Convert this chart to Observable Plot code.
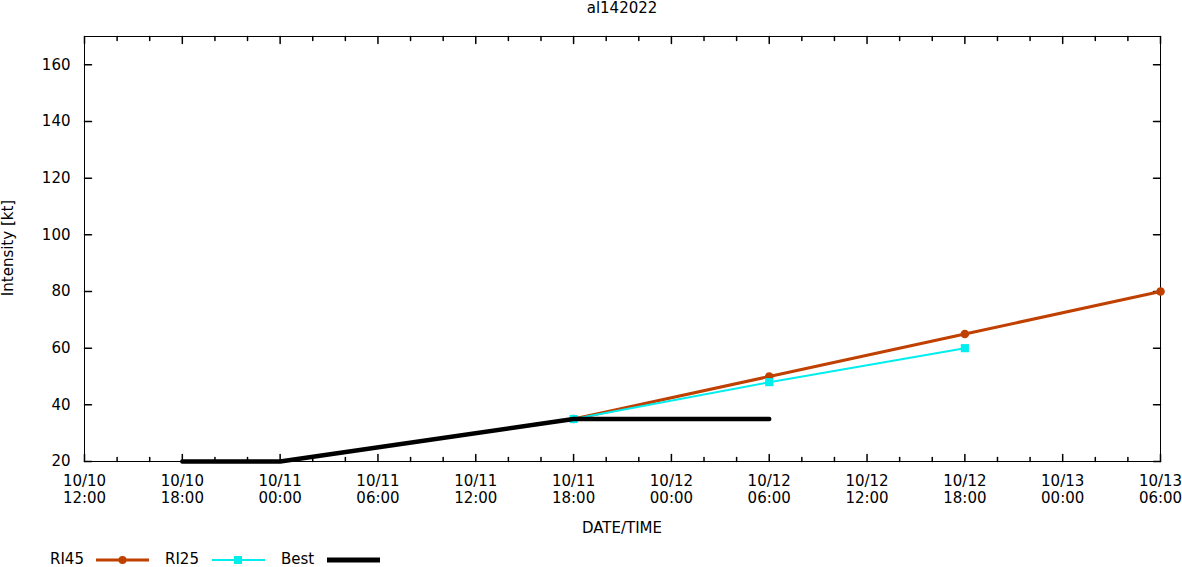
<!DOCTYPE html>
<html>
<head>
<meta charset="utf-8">
<script src="https://cdn.jsdelivr.net/npm/d3@7"></script>
<script src="https://cdn.jsdelivr.net/npm/@observablehq/plot@0.6"></script>
<style>
  html, body { margin: 0; padding: 0; background: #fff; }
  body { font-family: "DejaVu Sans", sans-serif; font-size: 15px; color: #000; }
  #wrap { position: relative; width: 1182px; height: 567px; }
  .abs { position: absolute; white-space: nowrap; line-height: 1; }
  #title { top: 1px; left: 622px; transform: translateX(-50%); }
  #xlabel { top: 521px; left: 622px; transform: translateX(-50%); }
  #ylabel { top: 248px; left: 8px; transform: translate(-50%, -50%) rotate(-90deg); }
  .leg { position: absolute; top: 552px; line-height: 1; }
  .legsw { position: absolute; top: 553px; }
</style>
</head>
<body>
<div id="wrap">
  <div id="chart"></div>
  <div id="title" class="abs">al142022</div>
  <div id="xlabel" class="abs">DATE/TIME</div>
  <div id="ylabel" class="abs">Intensity [kt]</div>
  <div id="legend"></div>
</div>
<script>
// ---- Data ----
const ri45Times = ["2022-10-11T18:00Z", "2022-10-12T06:00Z", "2022-10-12T18:00Z", "2022-10-13T06:00Z"];
const ri45Values = [35, 50, 65, 80];
const ri25Times = ["2022-10-11T18:00Z", "2022-10-12T06:00Z", "2022-10-12T18:00Z"];
const ri25Values = [35, 48, 60];
const bestTimes = ["2022-10-10T18:00Z", "2022-10-11T00:00Z", "2022-10-11T18:00Z", "2022-10-12T06:00Z"];
const bestValues = [20, 20, 35, 35];
const xDomain = ["2022-10-10T12:00Z", "2022-10-13T06:00Z"];
const yDomain = [20, 170];
const yTicks = [20, 40, 60, 80, 100, 120, 140, 160];

const seriesNames = ["RI45", "RI25", "Best"];
const seriesColors = ["#c04000", "#00eeee", "#000000"];

const toRows = (times, values) => times.map((t, i) => ({t: new Date(t), v: values[i]}));
const ri45 = toRows(ri45Times, ri45Values);
const ri25 = toRows(ri25Times, ri25Values);
const best = toRows(bestTimes, bestValues);

const x0 = new Date(xDomain[0]), x1 = new Date(xDomain[1]);
const majorTicks = d3.utcHour.every(6).range(x0, new Date(+x1 + 1));
const minorTicks = d3.utcHour.every(2).range(x0, new Date(+x1 + 1)).filter(d => d.getUTCHours() % 6 !== 0);

const tickShape = {draw(ctx, l) { ctx.moveTo(0, 0); ctx.lineTo(0, -l); }};
const fmt = d3.utcFormat("%m/%d\n%H:%M");

const plot = Plot.plot({
  width: 1182,
  height: 545,
  marginTop: 36,
  marginBottom: 84,
  marginLeft: 84,
  marginRight: 22,
  style: {fontFamily: "DejaVu Sans, sans-serif", fontSize: "15px", background: "#fff", color: "#000"},
  x: {type: "utc", domain: [x0, x1]},
  y: {domain: yDomain},
  marks: [
    Plot.axisX({ticks: majorTicks, tickSize: 0, tickPadding: 12, tickFormat: fmt, lineHeight: 1.15, label: null, fontSize: 15}),
    Plot.axisY({ticks: yTicks, tickSize: 0, tickPadding: 14, label: null, fontSize: 15}),
    // inward ticks on all four sides
    Plot.vector(majorTicks, {x: d => d, frameAnchor: "bottom", length: 7, rotate: 0, anchor: "start", shape: tickShape, stroke: "black"}),
    Plot.vector(minorTicks, {x: d => d, frameAnchor: "bottom", length: 4, rotate: 0, anchor: "start", shape: tickShape, stroke: "black"}),
    Plot.vector(majorTicks, {x: d => d, frameAnchor: "top", length: 7, rotate: 180, anchor: "start", shape: tickShape, stroke: "black"}),
    Plot.vector(minorTicks, {x: d => d, frameAnchor: "top", length: 4, rotate: 180, anchor: "start", shape: tickShape, stroke: "black"}),
    Plot.vector(yTicks, {y: d => d, frameAnchor: "left", length: 7, rotate: 90, anchor: "start", shape: tickShape, stroke: "black"}),
    Plot.vector(yTicks, {y: d => d, frameAnchor: "right", length: 7, rotate: -90, anchor: "start", shape: tickShape, stroke: "black"}),
    Plot.frame({stroke: "black", strokeWidth: 1}),
    // series
    Plot.line(ri45, {x: "t", y: "v", stroke: seriesColors[0], strokeWidth: 3}),
    Plot.dot(ri45, {x: "t", y: "v", symbol: "circle", r: 4.3, fill: seriesColors[0]}),
    Plot.line(ri25, {x: "t", y: "v", stroke: seriesColors[1], strokeWidth: 2}),
    Plot.dot(ri25, {x: "t", y: "v", symbol: "square", r: 4.6, fill: seriesColors[1]}),
    Plot.line(best, {x: "t", y: "v", stroke: seriesColors[2], strokeWidth: 4.5})
  ]
});
document.getElementById("chart").appendChild(plot);

// ---- Legend ----
const legend = document.getElementById("legend");
const legTextX = [50, 165, 281];
const legSwX = [96, 212, 327];
const legWidths = [3, 2, 5];
const legMarkers = ["circle", "square", null];
seriesNames.forEach((name, i) => {
  const t = document.createElement("div");
  t.className = "leg";
  t.style.left = legTextX[i] + "px";
  t.textContent = name;
  legend.appendChild(t);
  const sw = document.createElement("div");
  sw.className = "legsw";
  sw.style.left = legSwX[i] + "px";
  const c = seriesColors[i];
  let mk = "";
  if (legMarkers[i] === "circle") mk = `<circle cx="26.5" cy="7" r="4" fill="${c}"/>`;
  if (legMarkers[i] === "square") mk = `<rect x="22" y="3" width="8" height="8" fill="${c}"/>`;
  sw.innerHTML = `<svg width="54" height="13" style="display:block"><line x1="0" x2="53" y1="7" y2="7" stroke="${c}" stroke-width="${legWidths[i]}"/>${mk}</svg>`;
  legend.appendChild(sw);
});
</script>
</body>
</html>
